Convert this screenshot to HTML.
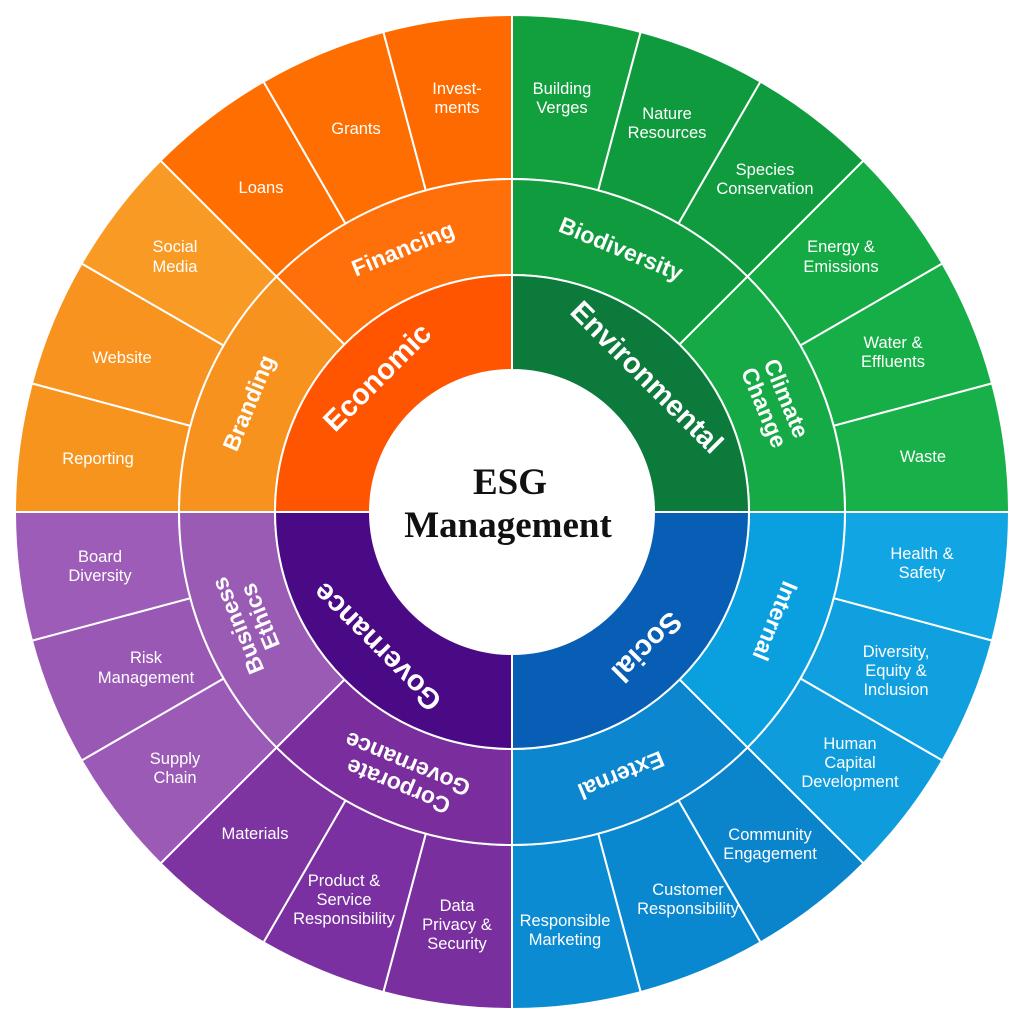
<!DOCTYPE html>
<html><head><meta charset="utf-8"><style>
html,body{margin:0;padding:0;background:#fff}
svg{display:block}
.o{font-family:"Liberation Sans",sans-serif;font-size:16.5px;fill:#fff;text-anchor:middle}
.r2{font-family:"Liberation Sans",sans-serif;font-size:23px;font-weight:bold;fill:#fff;text-anchor:middle;dominant-baseline:central}
.r1{font-family:"Liberation Sans",sans-serif;font-size:29px;font-weight:bold;fill:#fff;text-anchor:middle;dominant-baseline:central}
</style></head><body>
<svg width="1024" height="1024" viewBox="0 0 1024 1024" xmlns="http://www.w3.org/2000/svg">
<defs>
<path id="so" d="M1009,512 A497,497 0 0 1 992.06,640.63 L833.65,598.19 A333,333 0 0 0 845,512 Z"/>
<path id="s2" d="M845,512 A333,333 0 0 1 747.47,747.47 L679.58,679.58 A237,237 0 0 0 749,512 Z"/>
<path id="s1" d="M749,512 A237,237 0 0 1 512,749 L512,654 A142,142 0 0 0 654,512 Z"/>
</defs>
<g stroke="#fff" stroke-width="2">
<use href="#so" fill="#12A5E3" transform="rotate(0 512 512)"/>
<use href="#so" fill="#10A0DF" transform="rotate(15 512 512)"/>
<use href="#so" fill="#0E9CDC" transform="rotate(30 512 512)"/>
<use href="#so" fill="#0A84CB" transform="rotate(45 512 512)"/>
<use href="#so" fill="#0A88CF" transform="rotate(60 512 512)"/>
<use href="#so" fill="#0B8CD2" transform="rotate(75 512 512)"/>
<use href="#so" fill="#7A2F9E" transform="rotate(90 512 512)"/>
<use href="#so" fill="#7A30A0" transform="rotate(105 512 512)"/>
<use href="#so" fill="#7D33A0" transform="rotate(120 512 512)"/>
<use href="#so" fill="#9B5AB6" transform="rotate(135 512 512)"/>
<use href="#so" fill="#9A58B5" transform="rotate(150 512 512)"/>
<use href="#so" fill="#9D5CB7" transform="rotate(165 512 512)"/>
<use href="#so" fill="#F7941D" transform="rotate(180 512 512)"/>
<use href="#so" fill="#F7931E" transform="rotate(195 512 512)"/>
<use href="#so" fill="#F89A24" transform="rotate(210 512 512)"/>
<use href="#so" fill="#FF6E00" transform="rotate(225 512 512)"/>
<use href="#so" fill="#FF6E00" transform="rotate(240 512 512)"/>
<use href="#so" fill="#FF6A00" transform="rotate(255 512 512)"/>
<use href="#so" fill="#12A03E" transform="rotate(270 512 512)"/>
<use href="#so" fill="#0F9A3D" transform="rotate(285 512 512)"/>
<use href="#so" fill="#109B3E" transform="rotate(300 512 512)"/>
<use href="#so" fill="#15AB44" transform="rotate(315 512 512)"/>
<use href="#so" fill="#16AE46" transform="rotate(330 512 512)"/>
<use href="#so" fill="#18B048" transform="rotate(345 512 512)"/>
<use href="#s2" fill="#0AA0E0" transform="rotate(0 512 512)"/>
<use href="#s2" fill="#0B86CF" transform="rotate(45 512 512)"/>
<use href="#s2" fill="#7A2E9E" transform="rotate(90 512 512)"/>
<use href="#s2" fill="#9A5BB5" transform="rotate(135 512 512)"/>
<use href="#s2" fill="#F7921E" transform="rotate(180 512 512)"/>
<use href="#s2" fill="#FF6F0A" transform="rotate(225 512 512)"/>
<use href="#s2" fill="#119B3F" transform="rotate(270 512 512)"/>
<use href="#s2" fill="#15AA45" transform="rotate(315 512 512)"/>
<use href="#s1" fill="#085EB5" transform="rotate(0 512 512)"/>
<use href="#s1" fill="#4A0A86" transform="rotate(90 512 512)"/>
<use href="#s1" fill="#FF5500" transform="rotate(180 512 512)"/>
<use href="#s1" fill="#0B7A3B" transform="rotate(270 512 512)"/>
</g>
<circle cx="512" cy="512" r="142" fill="#fff"/>
<text x="510" y="494" text-anchor="middle" font-family="Liberation Serif,serif" font-weight="bold" font-size="37" fill="#111">ESG</text>
<text x="508" y="537" text-anchor="middle" font-family="Liberation Serif,serif" font-weight="bold" font-size="37" fill="#111">Management</text>

<text class="r1" transform="translate(646.3,646.3) rotate(135)">Social</text>
<text class="r1" transform="translate(377.7,646.3) rotate(225)">Governance</text>
<text class="r1" transform="translate(377.7,377.7) rotate(315)">Economic</text>
<text class="r1" transform="translate(646.3,377.7) rotate(45)">Environmental</text>

<text class="r2" transform="translate(775.3,621.1) rotate(112.5)">Internal</text>
<text class="r2" transform="translate(621.1,775.3) rotate(157.5)">External</text>
<text class="r2" transform="translate(402.9,775.3) rotate(202.5)"><tspan x="0" dy="-12">Corporate</tspan><tspan x="0" dy="24">Governance</tspan></text>
<text class="r2" transform="translate(248.7,621.1) rotate(247.5)"><tspan x="0" dy="-12">Business</tspan><tspan x="0" dy="24">Ethics</tspan></text>
<text class="r2" transform="translate(248.7,402.9) rotate(292.5)">Branding</text>
<text class="r2" transform="translate(402.9,248.7) rotate(337.5)">Financing</text>
<text class="r2" transform="translate(621.1,248.7) rotate(22.5)">Biodiversity</text>
<text class="r2" transform="translate(775.3,402.9) rotate(67.5)"><tspan x="0" dy="-12">Climate</tspan><tspan x="0" dy="24">Change</tspan></text>

<g class="o">
<text x="98" y="464">Reporting</text>
<text x="122" y="363">Website</text>
<text x="175" y="252">Social</text><text x="175" y="272">Media</text>
<text x="261" y="193">Loans</text>
<text x="356" y="134">Grants</text>
<text x="457" y="94">Invest-</text><text x="457" y="113">ments</text>
<text x="562" y="94">Building</text><text x="562" y="113">Verges</text>
<text x="667" y="119">Nature</text><text x="667" y="138">Resources</text>
<text x="765" y="175">Species</text><text x="765" y="194">Conservation</text>
<text x="841" y="252">Energy &amp;</text><text x="841" y="272">Emissions</text>
<text x="893" y="348">Water &amp;</text><text x="893" y="367">Effluents</text>
<text x="923" y="462">Waste</text>
<text x="922" y="559">Health &amp;</text><text x="922" y="578">Safety</text>
<text x="896" y="657">Diversity,</text><text x="896" y="676">Equity &amp;</text><text x="896" y="695">Inclusion</text>
<text x="850" y="749">Human</text><text x="850" y="768">Capital</text><text x="850" y="787">Development</text>
<text x="770" y="840">Community</text><text x="770" y="859">Engagement</text>
<text x="688" y="895">Customer</text><text x="688" y="914">Responsibility</text>
<text x="565" y="926">Responsible</text><text x="565" y="945">Marketing</text>
<text x="100" y="562">Board</text><text x="100" y="581">Diversity</text>
<text x="146" y="663">Risk</text><text x="146" y="683">Management</text>
<text x="175" y="764">Supply</text><text x="175" y="783">Chain</text>
<text x="255" y="839">Materials</text>
<text x="344" y="886">Product &amp;</text><text x="344" y="905">Service</text><text x="344" y="924">Responsibility</text>
<text x="457" y="911">Data</text><text x="457" y="930">Privacy &amp;</text><text x="457" y="949">Security</text>
</g>
</svg>
</body></html>
